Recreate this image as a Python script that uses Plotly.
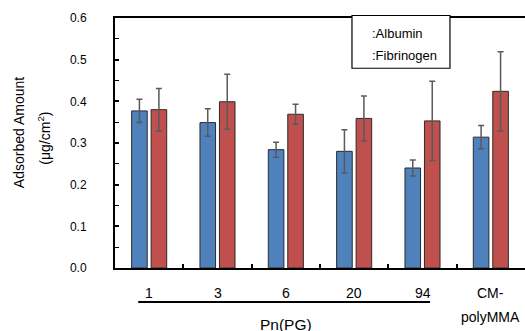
import plotly.graph_objects as go

categories = ["1", "3", "6", "20", "94", "CM-polyMMA"]
label_line1 = ["1", "3", "6", "20", "94", "CM-"]
label_line2 = ["", "", "", "", "", "polyMMA"]
albumin = [0.377, 0.349, 0.284, 0.280, 0.240, 0.314]
albumin_err = [0.028, 0.033, 0.018, 0.052, 0.019, 0.028]
fibrinogen = [0.380, 0.399, 0.369, 0.359, 0.353, 0.424]
fibrinogen_err = [0.051, 0.066, 0.024, 0.054, 0.095, 0.095]

FONT = "Liberation Sans, Arial, sans-serif"

fig = go.Figure()
fig.add_trace(go.Bar(
    x=categories, y=albumin, name="Albumin",
    marker=dict(color="#4F81BD", line=dict(color="#2b2b2b", width=1)),
    error_y=dict(type="data", array=albumin_err, color="#5a5a5a", thickness=1.5, width=3),
))
fig.add_trace(go.Bar(
    x=categories, y=fibrinogen, name="Fibrinogen",
    marker=dict(color="#C0504D", line=dict(color="#2b2b2b", width=1)),
    error_y=dict(type="data", array=fibrinogen_err, color="#5a5a5a", thickness=1.5, width=3),
))

annotations = []
for i, (l1, l2) in enumerate(zip(label_line1, label_line2)):
    annotations.append(dict(x=i, xref="x", y=-0.098, yref="paper", text=l1, showarrow=False,
                            font=dict(size=14, color="black", family=FONT), xanchor="center", yanchor="middle"))
    if l2:
        annotations.append(dict(x=i, xref="x", y=-0.195, yref="paper", text=l2, showarrow=False,
                                font=dict(size=14, color="black", family=FONT), xanchor="center", yanchor="middle"))

annotations.append(dict(x=2, xref="x", y=-0.225, yref="paper", text="Pn(PG)", showarrow=False,
                        font=dict(size=15.5, color="black", family=FONT), xanchor="center", yanchor="middle"))
annotations.append(dict(x=-0.235, xref="paper", y=0.542, yref="paper", text="Adsorbed Amount", showarrow=False,
                        textangle=-90, font=dict(size=14, color="black", family=FONT),
                        xanchor="center", yanchor="middle"))
annotations.append(dict(x=-0.174, xref="paper", y=0.52, yref="paper", text="(\u03bcg/cm<sup>2</sup>)", showarrow=False,
                        textangle=-90, font=dict(size=14, color="black", family=FONT),
                        xanchor="center", yanchor="middle"))
annotations.append(dict(x=0.622, xref="paper", y=0.937, yref="paper", text=":Albumin", showarrow=False,
                        font=dict(size=13, color="black", family=FONT), xanchor="left", yanchor="middle"))
annotations.append(dict(x=0.622, xref="paper", y=0.85, yref="paper", text=":Fibrinogen", showarrow=False,
                        font=dict(size=13, color="black", family=FONT), xanchor="left", yanchor="middle"))

shapes = [
    dict(type="line", xref="x", yref="paper", x0=-0.16, x1=4.11, y0=-0.136, y1=-0.136,
         line=dict(color="black", width=2)),
    dict(type="rect", xref="paper", yref="paper", x0=0.578, x1=0.817, y0=0.799, y1=1.01,
         line=dict(color="black", width=1.2), fillcolor="white", layer="above"),
]

fig.update_layout(
    width=525, height=331,
    margin=dict(l=115, r=0, t=17.5, b=62.5),
    paper_bgcolor="white", plot_bgcolor="white",
    barmode="group", bargap=0.43, bargroupgap=0.2,
    showlegend=False,
    font=dict(family=FONT, size=12, color="black"),
    annotations=annotations,
    shapes=shapes,
    xaxis=dict(
        type="category", range=[-0.5, 5.5], showticklabels=False,
        showline=True, linecolor="black", linewidth=2, mirror=True,
        ticks="inside", tickson="boundaries", ticklen=4, tickcolor="black", tickwidth=2,
        showgrid=False, zeroline=False,
    ),
    yaxis=dict(
        range=[0, 0.6], dtick=0.1, tickformat=".1f",
        showline=True, linecolor="black", linewidth=2,
        ticks="inside", ticklen=4, tickcolor="black", tickwidth=2,
        minor=dict(ticks="inside", dtick=0.05, ticklen=4, tickcolor="black", tickwidth=1),
        showgrid=False, zeroline=False,
        tickfont=dict(size=12, color="black", family=FONT),
        ticklabelstandoff=24,
    ),
)

fig.write_html("out.html")
